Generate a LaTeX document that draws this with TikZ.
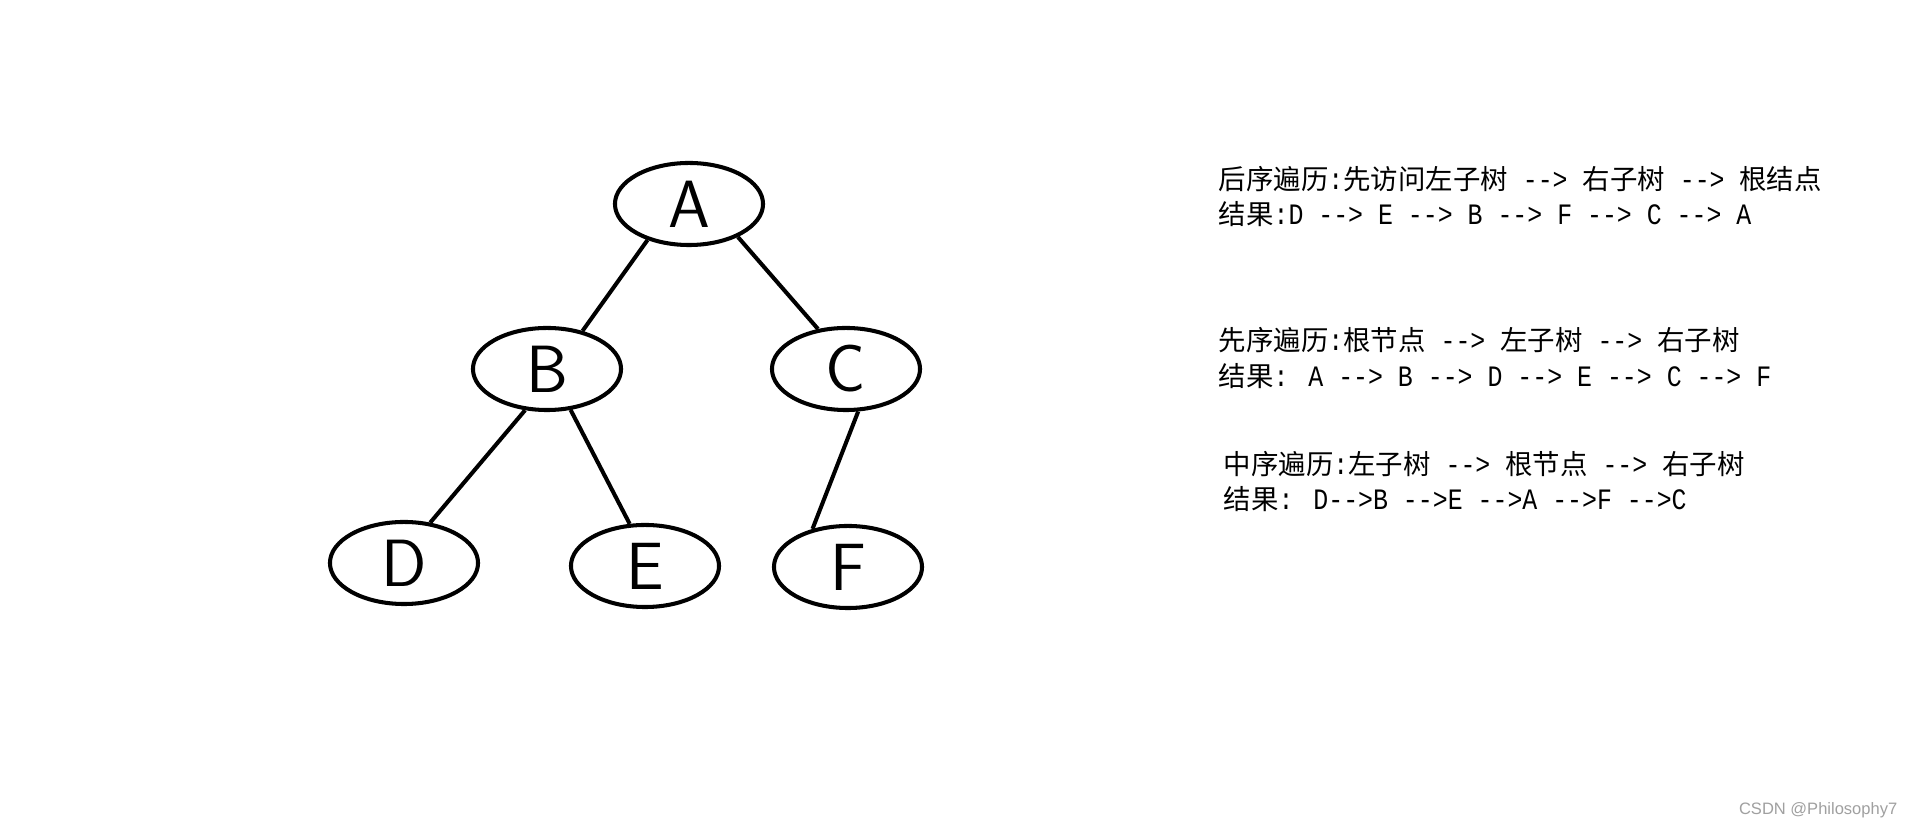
\documentclass[tikz,border=0pt]{standalone}
\usepackage{fontspec}
\setmainfont{Liberation Mono}[Ligatures=TeXOff, Scale=1.08, FakeStretch=0.84]
\newfontfamily\cjk{Noto Sans CJK SC}
\newfontfamily\wmfont{Liberation Sans}
\usepackage{tikz}
\usetikzlibrary{positioning,shapes.geometric}
\definecolor{TInk}{HTML}{000000}
\definecolor{TGray}{HTML}{A0A0A0}

\begin{document}
\begin{tikzpicture}[x=0.01cm, y=-0.01cm,
  tnode/.style={ellipse, draw=TInk, line width=1.15pt, minimum width=1.48cm,
    minimum height=0.82cm, inner sep=0pt, font=\sffamily\fontsize{19}{19}\selectfont},
  tedge/.style={draw=TInk, line width=1.15pt},
  tline/.style={anchor=base west, inner sep=0pt, text=TInk,
    font=\fontsize{7.8}{9}\selectfont}]
\useasboundingbox[fill=white] (0,0) rectangle (1914,828);
% tree
\node[tnode] (A) at (689,204) {A};
\node[tnode] (B) at (547,369) {B};
\node[tnode] (C) at (846,369) {C};
\node[tnode] (D) at (404,563) {D};
\node[tnode] (E) at (645,566) {E};
\node[tnode] (F) at (848,567) {F};
\draw[tedge] (A.-139) -- (B.47);
\draw[tedge] (A.-34) -- (C.125);
\draw[tedge] (B.-118) -- (D.57);
\draw[tedge] (B.-60) -- (E.110);
\draw[tedge] (C.-74) -- (F.133);
% traversals
\node[tline] (post1) at (1218,190) {{\cjk 后序遍历}:{\cjk 先访问左子树} --> {\cjk 右子树} --> {\cjk 根结点}};
\node[tline] (post2) at (1218,225) {{\cjk 结果}:D --> E --> B --> F --> C --> A};
\node[tline] (pre1) at (1218,351) {{\cjk 先序遍历}:{\cjk 根节点} --> {\cjk 左子树} --> {\cjk 右子树}};
\node[tline] (pre2) at (1218,387) {{\cjk 结果}: A --> B --> D --> E --> C --> F};
\node[tline] (in1) at (1223,475) {{\cjk 中序遍历}:{\cjk 左子树} --> {\cjk 根节点} --> {\cjk 右子树}};
\node[tline] (in2) at (1223,510) {{\cjk 结果}: D-->B -->E -->A -->F -->C};
\node[anchor=base east, inner sep=0pt, text=TGray,
  font=\wmfont\fontsize{4.7}{5}\selectfont] (mark) at (1898,815) {CSDN @Philosophy7};
\end{tikzpicture}
\end{document}
